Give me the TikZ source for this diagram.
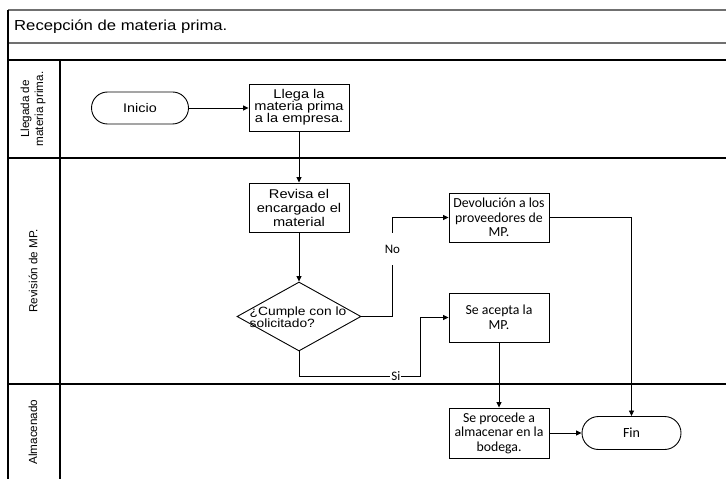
\documentclass[tikz,border=0pt]{standalone}
\usepackage{fontspec}
\usepackage{tikz}
\usetikzlibrary{shapes.geometric,shapes.misc}
\usetikzlibrary{arrows.meta}

\newfontfamily\wideArial{Liberation Sans}[FakeStretch=1.15]
\newfontfamily\plainArial{Liberation Sans}
\newfontfamily\calibri{Carlito}

\definecolor{framegray}{RGB}{112,112,112}

\tikzset{
	lane/.style={draw=black, line width=1.1bp},
	box/.style={draw, line width=0.9bp, minimum width=100bp, minimum height=49bp, inner sep=1bp, align=center},
	leftbox/.style={box, font=\wideArial\fontsize{12.7bp}{14bp}\selectfont},
	rightbox/.style={box, font=\calibri\fontsize{13.8bp}{14.5bp}\selectfont},
	terminal/.style={draw, line width=0.9bp, rounded rectangle, minimum width=99bp, minimum height=32bp, inner sep=1bp},
	decision/.style={draw, line width=0.9bp, diamond, minimum width=124bp, minimum height=69bp, inner sep=0pt},
	flow/.style={line width=0.8bp, -{Triangle[length=5.5bp,width=5bp]}},
	branch/.style={fill=white, inner sep=1bp, font=\calibri\fontsize{13bp}{13bp}\selectfont},
	lanename/.style={rotate=90, align=center, font=\plainArial\fontsize{11.7bp}{14bp}\selectfont}
}

\begin{document}
\begin{tikzpicture}[x=1bp,y=-1bp]
\useasboundingbox (0,0) rectangle (726,479);

% Pool frame and swimlanes
\draw[framegray, line width=1.6bp] (8,10) -- (726,10); % top edge
\draw[framegray, line width=1.6bp] (8,43) -- (726,43); % under the title
\draw[lane] (8,10) -- (8,479); % left edge
\draw[lane] (8,60) -- (726,60);
\draw[lane] (8,158) -- (726,158);
\draw[lane] (8,384) -- (726,384);
\draw[lane] (60,60) -- (60,479); % lane name column

\node[anchor=west, inner sep=0pt, font=\wideArial\fontsize{14.5bp}{16bp}\selectfont] (title) at (14,27) {Recepción de materia prima.};

\node[lanename] (laneA) at (33,109) {Llegada de\\materia prima.};
\node[lanename] (laneB) at (33,271) {Revisión de MP.};
\node[lanename] (laneC) at (33,432) {Almacenado};

% Steps
\node[terminal, font=\wideArial\fontsize{12.5bp}{14bp}\selectfont] (inicio) at (140,108) {Inicio};
\node[leftbox, minimum height=47bp, font=\wideArial\fontsize{12.7bp}{12bp}\selectfont] (llega) at (299,107.5) {Llega la\\materia prima\\a la empresa.};
\node[leftbox] (revisa) at (299,207.5) {Revisa el\\encargado el\\material};
\node[decision] (cumple) at (299,316.5) {}; % Decision shape
\node[align=left, inner sep=0pt, font=\wideArial\fontsize{12bp}{10bp}\selectfont] (cumpletxt) at (298,317) {¿Cumple con lo\\solicitado?}; % its text runs over the edge
\node[rightbox] (devol) at (499,217.5) {Devolución a los\\proveedores de\\MP.};
\node[rightbox] (acepta) at (499,317.5) {Se acepta la\\MP.};
\node[rightbox, minimum height=50bp] (procede) at (499,433) {Se procede a\\almacenar en la\\bodega.};
\node[terminal, font=\calibri\fontsize{14bp}{15bp}\selectfont, minimum width=101bp, minimum height=33bp] (fin) at (631.5,433) {Fin};

% Connectors
\coordinate (sibend) at (420,376); % corner of the Si branch

\draw[flow] (inicio.east) -- (inicio.east -| llega.west);
\draw[flow] (llega.south) -- (revisa.north);
\draw[flow] (revisa.south) -- (cumple.north);
\draw[flow] (cumple.east) -- ++(31,0) |- node[branch, inner ysep=12bp, pos=0.34]{No} (devol.west);
\draw[flow] (cumple.south) |- node[branch, pos=0.9]{Si} (sibend) |- (acepta.west);
\draw[flow] (acepta.south) -- (procede.north);
\draw[flow] (devol.east) -| (fin.north);
\draw[flow] (procede.east) -- (fin.west);
\end{tikzpicture}
\end{document}
